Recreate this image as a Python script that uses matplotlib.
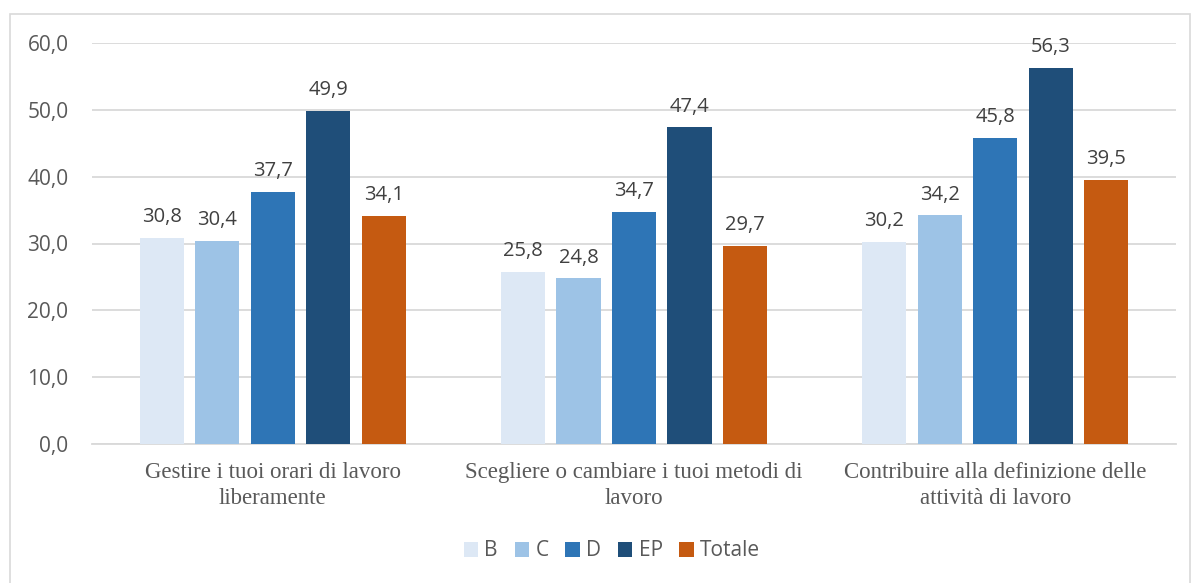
import numpy as np
import matplotlib.pyplot as plt
from matplotlib.patches import Rectangle

# Quota di lavoratori per livello di inquadramento
categories = [
    "Gestire i tuoi orari di lavoro\nliberamente",
    "Scegliere o cambiare i tuoi metodi di\nlavoro",
    "Contribuire alla definizione delle\nattività di lavoro",
]
series = ["B", "C", "D", "EP", "Totale"]
val_b = [30.8, 25.8, 30.2]
val_c = [30.4, 24.8, 34.2]
val_d = [37.7, 34.7, 45.8]
val_ep = [49.9, 47.4, 56.3]
val_tot = [34.1, 29.7, 39.5]
values = [val_b, val_c, val_d, val_ep, val_tot]
colors = ["#dde8f5", "#9dc3e6", "#2e75b6", "#1f4e79", "#c55a11"]

fig = plt.figure(figsize=(11.92, 5.83), dpi=100)
ax = fig.add_axes([92 / 1192, 139 / 583, 1084 / 1192, 401 / 583])

# cornice esterna del grafico
fig.patches.append(Rectangle((10 / 1192, -0.01), 1180 / 1192, 1 - 14 / 583 + 0.01,
                             transform=fig.transFigure, fill=False,
                             edgecolor="#d9d9d9", linewidth=1.2))

x = np.arange(len(categories))
step = 0.1537
width = 0.122
for i, (name, vals, col) in enumerate(zip(series, values, colors)):
    pos = x + (i - 2) * step
    bars = ax.bar(pos, vals, width, color=col, label=name, zorder=3)
    for b, v in zip(bars, vals):
        ax.text(b.get_x() + b.get_width() / 2, v + 1.6, f"{v:.1f}".replace(".", ","),
                ha="center", va="bottom", fontsize=14.5, color="#404040",
                family="Open Sans", clip_on=False)

ax.set_xlim(-0.5, 2.5)
ax.set_ylim(0, 60)
ax.set_yticks(np.arange(0, 61, 10))
ax.set_yticklabels([f"{t:.1f}".replace(".", ",") for t in np.arange(0, 61, 10)],
                   family="Open Sans", fontsize=15, color="#595959")
ax.set_xticks(x)
ax.set_xticklabels(categories, family="Liberation Serif", fontsize=16.5, color="#595959",
                   linespacing=1.3)
ax.tick_params(axis="both", length=0)
ax.tick_params(axis="y", pad=17)
ax.tick_params(axis="x", pad=13)
ax.grid(axis="y", color="#d9d9d9", linewidth=1.3, zorder=0)
for s in ["top", "right", "left"]:
    ax.spines[s].set_visible(False)
ax.spines["bottom"].set_color("#d9d9d9")
ax.spines["bottom"].set_linewidth(1.3)

leg = fig.legend(loc="center", bbox_to_anchor=(612 / 1192, 1 - 551 / 583), ncol=5,
                 frameon=False, handlelength=0.7, handleheight=0.7, handletextpad=0.3,
                 columnspacing=0.8, prop={"family": "Open Sans", "size": 15})
for t in leg.get_texts():
    t.set_color("#595959")

fig.savefig("out.png", dpi=100)
